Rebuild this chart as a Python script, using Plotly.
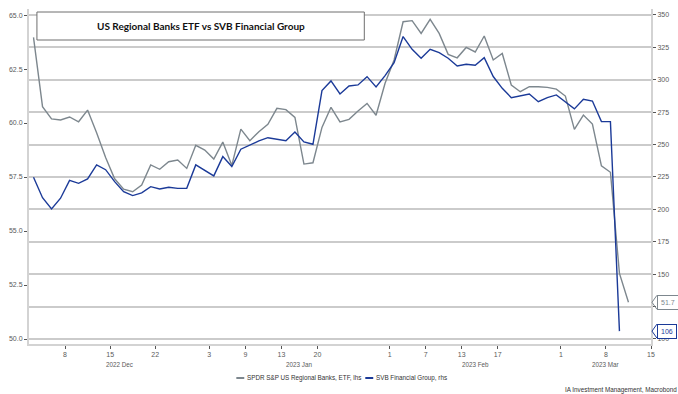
import numpy as np
import plotly.graph_objects as go

# ---------------- data ----------------
dates = [
    "2022-12-02", "2022-12-05", "2022-12-06", "2022-12-07", "2022-12-08", "2022-12-09",
    "2022-12-12", "2022-12-13", "2022-12-14", "2022-12-15", "2022-12-16",
    "2022-12-19", "2022-12-20", "2022-12-21", "2022-12-22", "2022-12-23",
    "2022-12-27", "2022-12-28", "2022-12-29", "2022-12-30",
    "2023-01-03", "2023-01-04", "2023-01-05", "2023-01-06",
    "2023-01-09", "2023-01-10", "2023-01-11", "2023-01-12", "2023-01-13",
    "2023-01-17", "2023-01-18", "2023-01-19", "2023-01-20",
    "2023-01-23", "2023-01-24", "2023-01-25", "2023-01-26", "2023-01-27",
    "2023-01-30", "2023-01-31",
    "2023-02-01", "2023-02-02", "2023-02-03",
    "2023-02-06", "2023-02-07", "2023-02-08", "2023-02-09", "2023-02-10",
    "2023-02-13", "2023-02-14", "2023-02-15", "2023-02-16", "2023-02-17",
    "2023-02-21", "2023-02-22", "2023-02-23", "2023-02-24",
    "2023-02-27", "2023-02-28",
    "2023-03-01", "2023-03-02", "2023-03-03",
    "2023-03-06", "2023-03-07", "2023-03-08", "2023-03-09", "2023-03-10",
]

etf_lhs = [
    63.97, 60.76, 60.19, 60.14, 60.28, 60.06, 60.60, 59.55, 58.40, 57.42,
    56.94, 56.82, 57.13, 58.06, 57.86, 58.21, 58.29, 57.90, 58.97, 58.75,
    58.33, 59.12, 58.04, 59.72, 59.18, 59.60, 59.94, 60.68, 60.62, 60.26,
    58.10, 58.16, 59.80, 60.73, 60.05, 60.17, 60.56, 60.91, 60.36, 61.84,
    62.92, 64.69, 64.74, 64.15, 64.80, 64.15, 63.18, 63.02, 63.50, 63.29,
    64.03, 62.92, 63.22, 61.76, 61.45, 61.68, 61.68, 61.65, 61.57, 61.25,
    59.71, 60.37, 59.95, 58.02, 57.72, 53.04, 51.70,
]

svb_rhs = [
    224.7, 209.0, 200.3, 208.6, 222.4, 220.1, 223.5, 234.3, 230.6, 221.4,
    213.7, 210.6, 212.7, 217.5, 215.7, 217.0, 216.2, 216.2, 234.3, 229.9,
    225.8, 240.7, 233.0, 246.4, 249.7, 252.8, 255.3, 254.3, 253.0, 259.7,
    252.0, 250.2, 291.6, 299.1, 289.0, 295.2, 296.0, 302.4, 294.4, 303.2,
    313.2, 333.3, 323.5, 316.6, 323.5, 320.9, 316.6, 310.6, 312.0, 311.2,
    317.1, 302.5, 293.4, 286.2, 287.8, 289.0, 283.1, 286.2, 288.3, 283.1,
    277.5, 285.0, 283.6, 267.7, 267.7, 106.04,
]

holidays = ["2022-12-26", "2023-01-02", "2023-01-16", "2023-02-20"]
tick_dates = ["2022-12-08", "2022-12-15", "2022-12-22", "2023-01-03", "2023-01-09",
              "2023-01-13", "2023-01-20", "2023-02-01", "2023-02-07", "2023-02-13",
              "2023-02-17", "2023-03-01", "2023-03-08", "2023-03-15"]
tick_labels = ["8", "15", "22", "3", "9", "13", "20", "1", "7", "13", "17", "1", "8", "15"]
month_starts = ["2022-12-01", "2023-01-01", "2023-02-01", "2023-03-01", "2023-04-01"]
month_labels = ["2022 Dec", "2023 Jan", "2023 Feb", "2023 Mar"]
axis_end = "2023-03-15"

lhs_ticks = [50, 52.5, 55, 57.5, 60, 62.5, 65]
lhs_labels = ["50.0", "52.5", "55.0", "57.5", "60.0", "62.5", "65.0"]
rhs_ticks = [100, 125, 150, 175, 200, 225, 250, 275, 300, 325, 350]
rhs_labels = ["100", "", "150", "175", "200", "225", "250", "275", "300", "325", "350"]  # 125 hidden under callout

title_text = "US Regional Banks ETF vs SVB Financial Group"
etf_name = "SPDR S&P US Regional Banks, ETF, lhs"
svb_name = "SVB Financial Group, rhs"
source_text = "IA Investment Management, Macrobond"

# ---------------- helpers ----------------
start = dates[0]


def tday(d):
    """Trading-day position of a date (start of its day)."""
    return int(np.busday_count(start, d, holidays=holidays))


x_pts = [tday(d) + 0.5 for d in dates]
x_end = tday(axis_end)

ETF_COL = "#7d878e"
SVB_COL = "#1b3a98"
GRID = "#cbcbcb"
AXL = "#d3d3d3"
TXT = "#5a5a5a"
FONT = "Liberation Sans"
SMALL = 6.3

fig = go.Figure()
fig.add_trace(go.Scatter(x=x_pts, y=etf_lhs, mode="lines", name=etf_name,
                         line=dict(color=ETF_COL, width=1.4), yaxis="y",
                         showlegend=False))
fig.add_trace(go.Scatter(x=x_pts[:len(svb_rhs)], y=svb_rhs, mode="lines", name=svb_name,
                         line=dict(color=SVB_COL, width=1.4), yaxis="y2",
                         showlegend=False))

L, R, T, B = 29, 22, 9, 50
W, H = 678, 394
pw, ph = W - L - R, H - T - B


def px_x(p):
    return (p - L) / pw


def px_y(p):
    return (H - B - p) / ph


fig.update_layout(
    width=W, height=H,
    margin=dict(l=L, r=R, t=T, b=B),
    paper_bgcolor="white", plot_bgcolor="white",
    font=dict(family=FONT, size=7, color=TXT),
    xaxis=dict(range=[0, x_end], tickmode="array",
               tickvals=[tday(d) for d in tick_dates], ticktext=tick_labels,
               showgrid=False, zeroline=False, showline=True, linecolor=AXL, linewidth=2,
               ticks="outside", ticklen=3, tickcolor="#555", tickwidth=1,
               tickfont=dict(size=7, color=TXT, family=FONT)),
    yaxis=dict(range=[49.77, 65.28], tickmode="array",
               tickvals=lhs_ticks, ticktext=lhs_labels,
               showgrid=False, zeroline=False, showline=True, linecolor=AXL, linewidth=2,
               ticks="outside", ticklen=3, tickcolor="#555", tickwidth=1,
               tickfont=dict(size=7, color=TXT, family=FONT)),
    yaxis2=dict(range=[96.1, 354.6], overlaying="y", side="right",
                tickmode="array", tickvals=rhs_ticks, ticktext=rhs_labels,
                showgrid=True, gridcolor=GRID, gridwidth=1.5, zeroline=False,
                showline=True, linecolor=AXL, linewidth=2,
                ticks="outside", ticklen=3, tickcolor="#555", tickwidth=1,
                tickfont=dict(size=7, color=TXT, family=FONT)),
)

shapes = []
annotations = []

# title box
shapes.append(dict(type="rect", xref="paper", yref="paper",
                   x0=px_x(37), x1=px_x(367), y0=px_y(40), y1=px_y(12),
                   line=dict(color="#6e6e6e", width=1), fillcolor="white", layer="above"))
annotations.append(dict(xref="paper", yref="paper", x=px_x(202), y=px_y(26),
                        text="<b>" + title_text + "</b>", showarrow=False,
                        font=dict(family="Lato", size=10, color="#111"),
                        xanchor="center", yanchor="middle"))

# month labels under the ticks
bounds = [min(max(tday(m), 0), x_end) for m in month_starts]
for i, lab in enumerate(month_labels):
    mid = (bounds[i] + bounds[i + 1]) / 2
    annotations.append(dict(xref="x", yref="paper", x=mid, y=px_y(364),
                            text=lab, showarrow=False, xanchor="center", yanchor="middle",
                            font=dict(size=SMALL, color=TXT, family=FONT)))

# legend (manual)
leg_y = px_y(378)
shapes.append(dict(type="line", xref="paper", yref="paper", x0=px_x(238), x1=px_x(246),
                   y0=leg_y, y1=leg_y, line=dict(color=ETF_COL, width=2)))
annotations.append(dict(xref="paper", yref="paper", x=px_x(247), y=leg_y, text=etf_name,
                        showarrow=False, xanchor="left", yanchor="middle",
                        font=dict(size=SMALL, color="#333", family=FONT)))
shapes.append(dict(type="line", xref="paper", yref="paper", x0=px_x(368), x1=px_x(376),
                   y0=leg_y, y1=leg_y, line=dict(color=SVB_COL, width=2)))
annotations.append(dict(xref="paper", yref="paper", x=px_x(377), y=leg_y, text=svb_name,
                        showarrow=False, xanchor="left", yanchor="middle",
                        font=dict(size=SMALL, color="#333", family=FONT)))

# source
annotations.append(dict(xref="paper", yref="paper", x=px_x(679), y=px_y(389.5),
                        xshift=5,
                        text=source_text, showarrow=False, xanchor="right", yanchor="middle",
                        font=dict(size=SMALL, color="#333", family=FONT)))

# last-value callouts
for val, yref, col, upp in [(etf_lhs[-1], "y", ETF_COL, 21.6), (svb_rhs[-1], "y2", SVB_COL, 1.296)]:
    annotations.append(dict(xref="paper", yref=yref, x=px_x(662), y=val,
                            text=("%.1f" % val) if yref == "y" else ("%d" % round(val)),
                            showarrow=False, xanchor="left", yanchor="middle",
                            bgcolor="white", bordercolor=col, borderwidth=1, borderpad=3,
                            font=dict(size=7, color=col, family=FONT)))
    dy = 7 / upp
    shapes.append(dict(type="path", xref="paper", yref=yref,
                       path="M %f,%f L %f,%f L %f,%f" % (px_x(662), val + dy, px_x(657), val,
                                                         px_x(662), val - dy),
                       line=dict(color=col, width=1)))

fig.update_layout(shapes=shapes, annotations=annotations)
fig.write_html("out.html")
